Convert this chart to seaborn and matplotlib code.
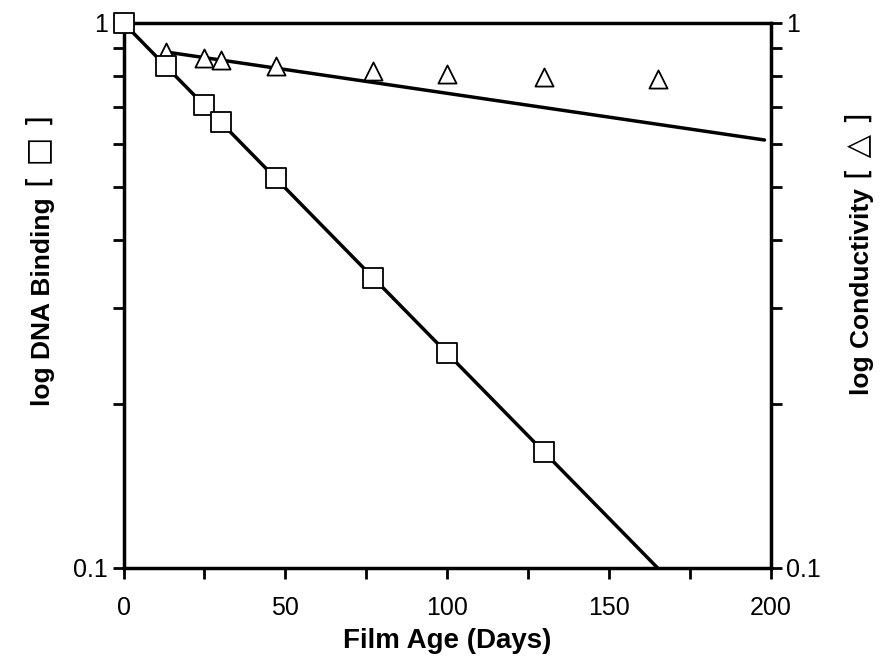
import matplotlib
matplotlib.use("Agg")
import matplotlib.pyplot as plt
import seaborn as sns
import numpy as np
import pandas as pd
from matplotlib.ticker import FixedLocator, NullFormatter, FixedFormatter

# Data
days_dna = [0, 13, 25, 30, 47, 77, 100, 130]
dna = [1.0, 0.834, 0.707, 0.658, 0.519, 0.340, 0.248, 0.163]
days_cond = [13, 25, 30, 47, 77, 100, 130, 165]
cond = [0.885, 0.863, 0.855, 0.834, 0.817, 0.806, 0.796, 0.789]
fit_dna_x = [0, 165]
fit_dna_y = [1.0, 0.1]
fit_cond_x = [13, 198]
fit_cond_y = [0.885, 0.61]
x_ticks = [0, 50, 100, 150, 200]
y_ticks = [0.1, 1]
y_tick_labels = ['0.1', '1']

sns.set_theme(style="white")
plt.rcParams['font.family'] = ['Liberation Sans', 'DejaVu Sans']
plt.rcParams['text.color'] = 'black'

fig = plt.figure(figsize=(8.81, 6.59), dpi=100)
ax = fig.add_axes([0.1402, 0.1381, 0.7349, 0.827])

sns.lineplot(x=fit_dna_x, y=fit_dna_y, ax=ax, color='black', lw=2.5, zorder=2)
sns.lineplot(x=fit_cond_x, y=fit_cond_y, ax=ax, color='black', lw=2.5, zorder=2)
sns.scatterplot(x=days_cond, y=cond, ax=ax, marker='^', s=170, facecolor='white',
                edgecolor='black', linewidth=1.3, zorder=3, clip_on=False)
sns.scatterplot(x=days_dna, y=dna, ax=ax, marker='s', s=190, facecolor='white',
                edgecolor='black', linewidth=1.3, zorder=4, clip_on=False)

ax.set_yscale('log')
ax.set_xlim(0, 200)
ax.set_ylim(0.1, 1)
for sp in ax.spines.values():
    sp.set_color('black')
    sp.set_linewidth(2.5)

ax.xaxis.set_major_locator(FixedLocator(x_ticks))
ax.xaxis.set_minor_locator(FixedLocator([25, 75, 125, 175]))
ax.yaxis.set_major_locator(FixedLocator(y_ticks))
ax.yaxis.set_major_formatter(FixedFormatter(y_tick_labels))
ax.yaxis.set_minor_locator(FixedLocator([0.2, 0.3, 0.4, 0.5, 0.6, 0.7, 0.8, 0.9]))
ax.yaxis.set_minor_formatter(NullFormatter())
ax.tick_params(which='both', direction='out', length=8, width=2, color='black',
               left=True, bottom=True, right=True, labelright=True,
               labelsize=18, labelcolor='black', pad=3)
ax.tick_params(axis='x', pad=12)

fig.text(447 / 881, 1 - 641 / 659, 'Film Age (Days)', fontsize=20, fontweight='bold',
         ha='center', va='center', color='black')
fig.text(43 / 881, 1 - 302 / 659, 'log DNA Binding', rotation=90, fontsize=19,
         fontweight='bold', ha='center', va='center', color='black')
fig.text(40 / 881, 1 - 151 / 659, '[ \u25a1 ]', rotation=90, fontsize=22,
         ha='center', va='center', family=['DejaVu Sans'], color='black')
fig.text(862 / 881, 1 - 292 / 659, 'log Conductivity', rotation=90, fontsize=19,
         fontweight='bold', ha='center', va='center', color='black')
fig.text(859 / 881, 1 - 146 / 659, '[ \u25b3 ]', rotation=90, fontsize=22,
         ha='center', va='center', family=['DejaVu Sans'], color='black')

fig.savefig('out.png', dpi=100)
